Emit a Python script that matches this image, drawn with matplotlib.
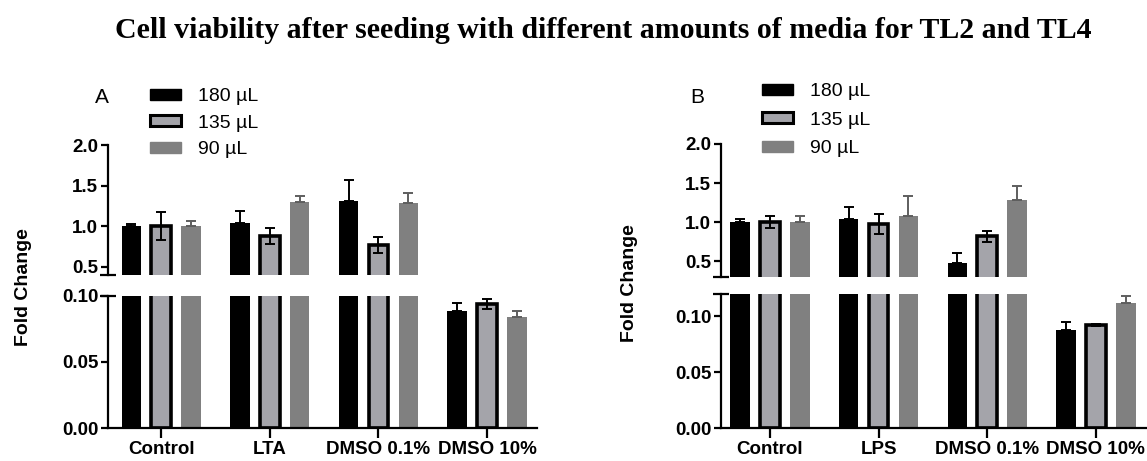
import numpy as np
import matplotlib.pyplot as plt
from matplotlib.patches import Patch

plt.rcParams['font.family'] = ['Liberation Sans', 'DejaVu Sans']

W, H = 1147, 461

groups_a = ["Control", "LTA", "DMSO 0.1%", "DMSO 10%"]
groups_b = ["Control", "LPS", "DMSO 0.1%", "DMSO 10%"]
volumes = ["180 µL", "135 µL", "90 µL"]

# panel A (TL2)
a_180 = [1.00, 1.04, 1.31, 0.089]
a_180_err = [0.03, 0.15, 0.26, 0.006]
a_135 = [1.00, 0.88, 0.77, 0.094]
a_135_err = [0.17, 0.10, 0.10, 0.004]
a_90 = [1.00, 1.30, 1.29, 0.084]
a_90_err = [0.06, 0.07, 0.12, 0.005]

# panel B (TL4)
b_180 = [1.00, 1.045, 0.48, 0.088]
b_180_err = [0.035, 0.145, 0.13, 0.0065]
b_135 = [1.00, 0.98, 0.82, 0.092]
b_135_err = [0.08, 0.13, 0.07, 0.001]
b_90 = [1.00, 1.08, 1.29, 0.112]
b_90_err = [0.08, 0.26, 0.17, 0.006]

C180 = "black"
C135 = "#a4a4aa"
C90 = "#808080"
CERR90 = "#5e5e5e"
TICK_FS = 13.5


def px_rect(left, right, top, bottom):
    return [left / W, (H - bottom) / H, (right - left) / W, (bottom - top) / H]


def draw_bars(ax, s180, e180, s135, e135, s90, e90):
    x = np.arange(len(s180))
    w, off = 0.18, 0.275
    z = np.zeros(len(s180))
    ekw = dict(fmt="none", elinewidth=1.4, capsize=3.5, capthick=1.4, zorder=3)
    ax.bar(x - off, s180, w, color=C180, zorder=2)
    ax.errorbar(x - off, s180, yerr=[z, e180], ecolor="black", **ekw)
    ax.bar(x, s135, w, color=C135, edgecolor="black", linewidth=2.6, zorder=2)
    ax.errorbar(x, s135, yerr=e135, ecolor="black", **ekw)
    ax.bar(x + off, s90, w, color=C90, zorder=2)
    ax.errorbar(x + off, s90, yerr=[z, e90], ecolor=CERR90, **ekw)


def style_axis(ax):
    for s in ["top", "right"]:
        ax.spines[s].set_visible(False)
    for s in ["left", "bottom"]:
        ax.spines[s].set_linewidth(1.6)
    ax.tick_params(width=1.6, length=5, labelsize=TICK_FS, pad=2)
    for lab in ax.get_yticklabels() + ax.get_xticklabels():
        lab.set_fontweight("bold")


def panel(groups, data, left, right, top_px, bot_px, top_lim, bot_lim, xlim,
          letter, letter_xy, ylab_xy, leg_xy, leg_space):
    ax_top = fig.add_axes(px_rect(left, right, *top_px))
    ax_bot = fig.add_axes(px_rect(left, right, *bot_px))
    for ax in (ax_top, ax_bot):
        draw_bars(ax, *data)
        ax.set_xlim(*xlim)

    ax_top.set_ylim(*top_lim)
    ax_top.set_yticks([0.5, 1.0, 1.5, 2.0])
    ax_top.set_yticklabels(["0.5", "1.0", "1.5", "2.0"])
    ax_top.spines["bottom"].set_visible(False)
    ax_top.set_xticks([])
    style_axis(ax_top)

    ax_bot.set_ylim(*bot_lim)
    ax_bot.set_yticks([0.0, 0.05, 0.10])
    ax_bot.set_yticklabels(["0.00", "0.05", "0.10"])
    ax_bot.set_xticks(np.arange(len(groups)))
    ax_bot.set_xticklabels(groups)
    style_axis(ax_bot)
    ax_bot.tick_params(axis="x", length=7, pad=2)

    # break marks on the left spine
    ax_top.plot([0], [0], marker="_", ms=11, mew=1.6, color="black",
                transform=ax_top.transAxes, clip_on=False)
    ax_bot.plot([0], [1], marker="_", ms=11, mew=1.6, color="black",
                transform=ax_bot.transAxes, clip_on=False)

    fig.text(letter_xy[0] / W, 1 - letter_xy[1] / H, letter, fontsize=15,
             ha="center", va="center")
    fig.text(ylab_xy[0] / W, 1 - ylab_xy[1] / H, "Fold Change", fontsize=14,
             fontweight="bold", rotation=90, ha="center", va="center")

    handles = [Patch(facecolor=C180, edgecolor=C180),
               Patch(facecolor=C135, edgecolor="black", linewidth=2.2),
               Patch(facecolor=C90, edgecolor=C90)]
    fig.legend(handles, volumes, loc="upper left",
               bbox_to_anchor=(leg_xy[0] / W, 1 - leg_xy[1] / H),
               frameon=False, fontsize=14, handlelength=1.6, handleheight=0.5,
               handletextpad=0.85, labelspacing=leg_space, borderpad=0,
               borderaxespad=0)


fig = plt.figure(figsize=(W / 100, H / 100), dpi=100)

fig.text(603 / W, 1 - 31 / H,
         "Cell viability after seeding with different amounts of media for TL2 and TL4",
         fontsize=21.5, fontweight="bold", family=["Liberation Serif", "DejaVu Serif"],
         ha="center", va="center")

panel(groups_a, (a_180, a_180_err, a_135, a_135_err, a_90, a_90_err),
      108, 537, (145, 275), (296, 428), (0.4, 2.0), (0.0, 0.10), (-0.49, 3.46),
      "A", (102, 97), (24, 287), (150, 88), 0.5)

panel(groups_b, (b_180, b_180_err, b_135, b_135_err, b_90, b_90_err),
      721, 1147, (144, 277), (294, 428), (0.3, 2.0), (0.0, 0.12), (-0.45, 3.47),
      "B", (697, 97), (630, 283), (762, 83), 0.6)

fig.savefig("out.png", dpi=100)
